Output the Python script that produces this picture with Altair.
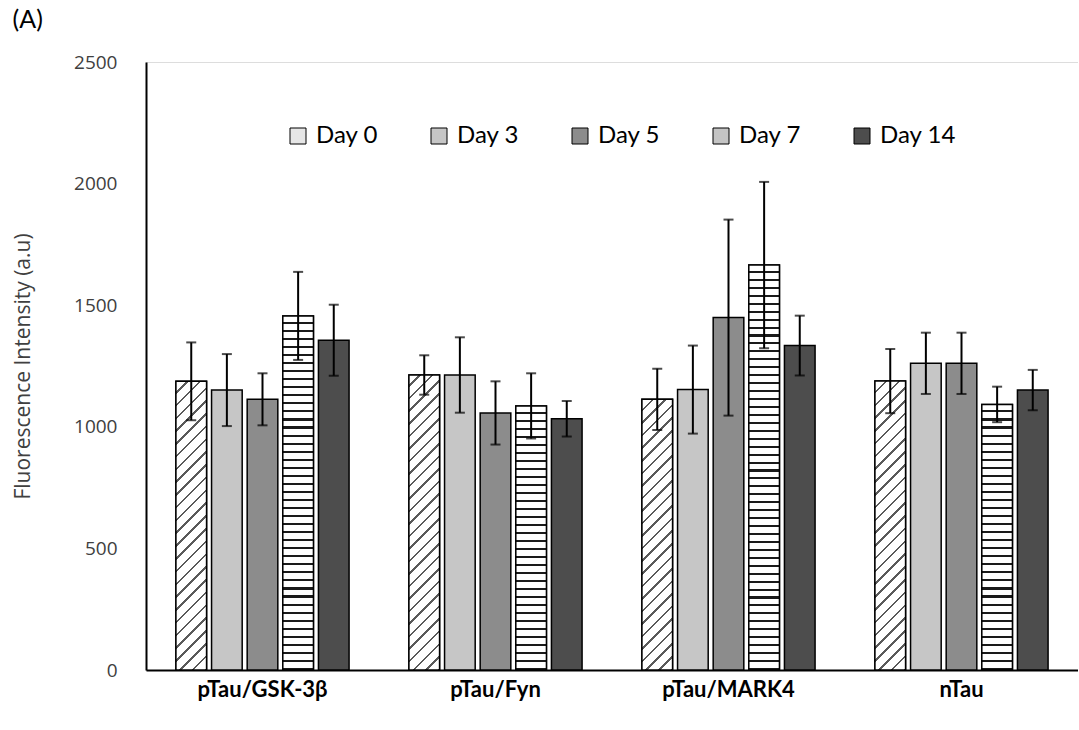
import math
import altair as alt
import pandas as pd

# Fluorescence intensity (a.u) per marker and day, mean and error
markers = ["pTau/GSK-3β", "pTau/Fyn", "pTau/MARK4", "nTau"]
days = ["Day 0", "Day 3", "Day 5", "Day 7", "Day 14"]

day0 = [1187, 1213, 1113, 1188]
day3 = [1151, 1213, 1153, 1261]
day5 = [1113, 1057, 1449, 1261]
day7 = [1456, 1086, 1665, 1092]
day14 = [1356, 1033, 1334, 1151]

err0 = [160, 81, 126, 132]
err3 = [148, 155, 181, 126]
err5 = [107, 130, 403, 126]
err7 = [181, 134, 342, 73]
err14 = [146, 73, 123, 83]

# grey tones used for the fills and legend swatches of each day
fills = ["#e6e6e6", "#c6c6c6", "#8c8c8c", "#c4c4c4", "#4d4d4d"]

means = [day0, day3, day5, day7, day14]
errs = [err0, err3, err5, err7, err14]

rows = []
for d, m_list, e_list in zip(days, means, errs):
    for mk, m, e in zip(markers, m_list, e_list):
        rows.append({"marker": mk, "day": d, "value": m, "lo": m - e, "hi": m + e})
df = pd.DataFrame(rows)

PLOT_W, PLOT_H = 932, 608
Y_MAX = 2500
X_PAD_IN, X_PAD_OUT = 0.14, 0.84
BAR_W = PLOT_W / len(markers) / (len(days) - X_PAD_IN + 2 * X_PAD_OUT) * (1 - X_PAD_IN)

y_scale = alt.Scale(domain=[0, Y_MAX], nice=False)
off_scale = alt.Scale(domain=days, paddingInner=X_PAD_IN, paddingOuter=X_PAD_OUT)

x_enc = alt.X(
    "marker:N",
    sort=markers,
    title=None,
    scale=alt.Scale(domain=markers, paddingInner=0, paddingOuter=0),
    axis=alt.Axis(
        labelAngle=0,
        labelFont="Lato",
        labelFontSize=22,
        labelFontWeight="bold",
        labelColor="#000000",
        labelPadding=9,
        ticks=False,
        domainColor="#000000",
        domainWidth=2,
    ),
)
xoff = alt.XOffset("day:N", sort=days, scale=off_scale)

bars = alt.Chart(df).mark_bar(stroke="#000000", strokeWidth=1.5).encode(
    x=x_enc,
    xOffset=xoff,
    y=alt.Y(
        "value:Q",
        scale=y_scale,
        title="Fluorescence Intensity (a.u)",
        axis=alt.Axis(
            values=[0, 500, 1000, 1500, 2000, 2500],
            format="d",
            grid=False,
            ticks=False,
            labelFont="Open Sans",
            labelFontSize=19,
            labelColor="#404040",
            labelPadding=29,
            titleFont="Open Sans",
            titleFontSize=21,
            titleFontWeight="normal",
            titleColor="#404040",
            titlePadding=40,
            domainColor="#000000",
            domainWidth=2,
        ),
    ),
    fill=alt.Fill(
        "day:N",
        sort=days,
        scale=alt.Scale(domain=days, range=fills),
        legend=alt.Legend(
            title=None,
            orient="none",
            legendX=140,
            legendY=62,
            direction="horizontal",
            columns=5,
            columnPadding=48,
            symbolType="square",
            symbolSize=256,
            symbolStrokeColor="#000000",
            symbolStrokeWidth=1,
            labelFont="Lato",
            labelFontSize=24,
            labelColor="#000000",
            labelOffset=6,
        ),
    ),
)


def stripe_stops(n, line_frac, bg, fg):
    """Hard-edged repeating stops: n periods of background then a line."""
    stops = []
    for k in range(n):
        a = k / n
        b = (k + 1 - line_frac) / n
        c = (k + 1) / n
        stops += [
            alt.GradientStop(color=bg, offset=a),
            alt.GradientStop(color=bg, offset=b),
            alt.GradientStop(color=fg, offset=b),
            alt.GradientStop(color=fg, offset=c),
        ]
    return stops


def hatch_layer(day, marker, value):
    """Bar drawn again with a striped gradient fill (Day 0 diagonal, Day 7 waves)."""
    h = value / Y_MAX * PLOT_H
    if day == "Day 7":
        n = max(1, round(h / 8))
        grad = alt.Gradient(
            gradient="linear", x1=0, y1=0, x2=0, y2=1,
            stops=stripe_stops(n, 0.26, "#ffffff", "#1a1a1a"),
        )
    else:
        r = BAR_W / h
        b = (1 + r) / (1 + r * r)
        a = b * r
        n = max(1, round((BAR_W + h) / math.sqrt(2) / 9))
        grad = alt.Gradient(
            gradient="linear", x1=0, y1=0, x2=a, y2=b,
            stops=stripe_stops(n, 0.2, "#ffffff", "#5a5a5a"),
        )
    sub = df[(df["day"] == day) & (df["marker"] == marker)]
    return alt.Chart(sub).mark_bar(fill=grad, stroke="#000000", strokeWidth=1.5).encode(
        x=alt.X("marker:N", sort=markers),
        xOffset=alt.XOffset("day:N", sort=days),
        y=alt.Y("value:Q", scale=y_scale),
    )


hatched = []
for d, vals in (("Day 0", day0), ("Day 7", day7)):
    for mk, v in zip(markers, vals):
        hatched.append(hatch_layer(d, mk, v))

whisker = alt.Chart(df).mark_rule(color="#000000", strokeWidth=2).encode(
    x=alt.X("marker:N", sort=markers),
    xOffset=alt.XOffset("day:N", sort=days),
    y=alt.Y("lo:Q", scale=y_scale),
    y2="hi:Q",
)
cap_hi = alt.Chart(df).mark_tick(color="#000000", thickness=2, size=10, orient="horizontal").encode(
    x=alt.X("marker:N", sort=markers),
    xOffset=alt.XOffset("day:N", sort=days),
    y=alt.Y("hi:Q", scale=y_scale),
)
cap_lo = alt.Chart(df).mark_tick(color="#000000", thickness=2, size=10, orient="horizontal").encode(
    x=alt.X("marker:N", sort=markers),
    xOffset=alt.XOffset("day:N", sort=days),
    y=alt.Y("lo:Q", scale=y_scale),
)

chart = (
    alt.layer(bars, *hatched, whisker, cap_hi, cap_lo)
    .properties(
        width=PLOT_W,
        height=PLOT_H,
        padding={"left": 12, "top": 8, "right": 0, "bottom": 10},
        title=alt.TitleParams(
            "(A)",
            anchor="start",
            font="Lato",
            fontSize=25,
            fontWeight="normal",
            color="#000000",
            offset=20,
        ),
    )
    .configure_view(stroke="transparent", strokeWidth=0)
    .configure_axis(grid=False)
    .configure(background="#ffffff")
)

chart.save("out.html", embed_options={"renderer": "svg", "actions": False})
